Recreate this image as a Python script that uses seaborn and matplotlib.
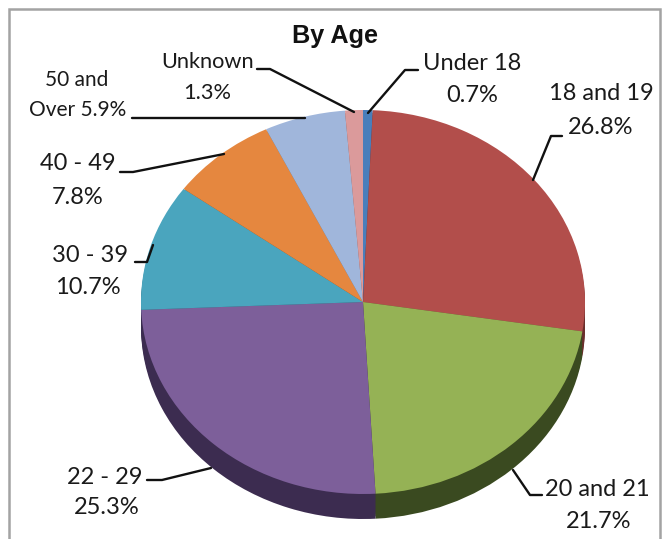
import matplotlib
matplotlib.use("Agg")
import matplotlib.pyplot as plt
import seaborn as sns

# ---- data ----
categories = ["Under 18", "18 and 19", "20 and 21", "22 - 29", "30 - 39", "40 - 49", "50 and Over", "Unknown"]
shares = [0.7, 26.8, 21.7, 25.3, 10.7, 7.8, 5.9, 1.3]
title = "By Age"
top_colors = ["#4A7EBB", "#B24E4B", "#95B255", "#7D5F9A", "#4AA5BE", "#E5873F", "#A0B6DB", "#DB9A9B"]
side_colors = ["#2C4A70", "#6B2E2C", "#3A4A20", "#3C2C50", "#2A6070", "#8A5020", "#5F6D85", "#845C5C"]

# ---- layout (pixels of the 662x539 picture) ----
W, H = 662, 539
CX, CY, RX, RY, DEPTH = 363, 302, 222, 192, 25
text_pos = {
    "Under 18": [(472, 63), (472, 95)],
    "18 and 19": [(601, 94), (601, 128)],
    "20 and 21": [(597, 490), (599, 522)],
    "22 - 29": [(105, 477), (107, 508)],
    "30 - 39": [(90, 255), (88, 288)],
    "40 - 49": [(78, 164), (78, 197)],
    "50 and Over": [(77, 80), (78, 110)],
    "Unknown": [(208, 62), (207, 93)],
}
leaders = {
    "Under 18": [(418, 70), (405, 70), (368, 113)],
    "18 and 19": [(562, 136), (551, 136), (533, 180)],
    "20 and 21": [(542, 495), (530, 495), (513, 470)],
    "22 - 29": [(147, 480), (162, 480), (211, 468)],
    "30 - 39": [(135, 262), (147, 262), (153, 245)],
    "40 - 49": [(120, 172), (133, 172), (224, 154)],
    "50 and Over": [(132, 118), (305, 118)],
    "Unknown": [(257, 69), (270, 69), (354, 112)],
}

sns.set_theme(style="white")
plt.rcParams["font.family"] = ["Lato", "DejaVu Sans"]

fig = plt.figure(figsize=(W / 100, H / 100), dpi=100, facecolor="white")

# pie axes: one data unit equals RX horizontally and RY vertically
ax = fig.add_axes([0, 0, 1, 1])
pie_kw = dict(startangle=90, counterclock=False, wedgeprops=dict(linewidth=0))
steps = 10
for i in range(steps, 0, -1):
    ax.pie(shares, colors=sns.color_palette(side_colors), center=(0, -DEPTH / RY * i / steps), **pie_kw)
ax.pie(shares, colors=sns.color_palette(top_colors), center=(0, 0), **pie_kw)
ax.set_aspect("auto")
ax.set_xlim(-CX / RX, (W - CX) / RX)
ax.set_ylim((CY - H) / RY, CY / RY)
ax.axis("off")

# overlay in pixel units for frame, labels and leader lines
ov = fig.add_axes([0, 0, 1, 1])
ov.set_xlim(0, W)
ov.set_ylim(H, 0)
ov.axis("off")
ov.patch.set_alpha(0)

ov.plot([9, 9, 660, 660], [H, 9, 9, H], color="#A3A3A3", lw=1.8, solid_joinstyle="miter")
ov.text(335, 36, title, ha="center", va="center", fontsize=18.2, fontweight="bold",
        family=["Liberation Sans"], color="#111111")

for cat, val in zip(categories, shares):
    pts = leaders[cat]
    ov.plot([p[0] for p in pts], [p[1] for p in pts], color="#111111", lw=1.7)
    if cat == "50 and Over":
        lines = ["50 and", f"Over {val}%"]
        size = 15
    elif cat == "Unknown":
        lines = [cat, f"{val}%"]
        size = 15.7
    else:
        lines = [cat, f"{val}%"]
        size = 17
    for (x, y), line in zip(text_pos[cat], lines):
        ov.text(x, y, line, ha="center", va="center", fontsize=size, color="#1a1a1a")

fig.savefig("out.png", dpi=100, facecolor="white")
